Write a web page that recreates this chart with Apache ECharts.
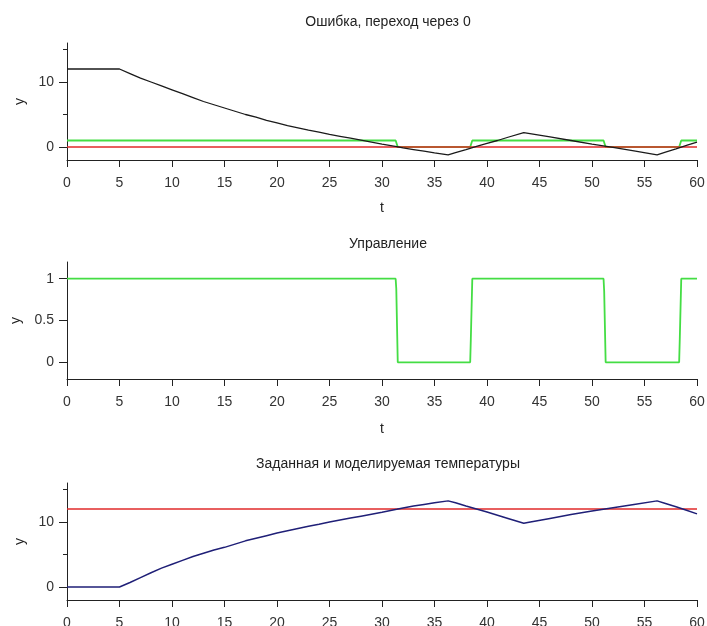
<!DOCTYPE html>
<html>
<head>
<meta charset="utf-8">
<script src="https://cdn.jsdelivr.net/npm/echarts@6/dist/echarts.min.js"></script>
<style>
html,body{margin:0;padding:0;background:#fff;}
#c{width:707px;height:626px;}
</style>
</head>
<body>
<div id="c"></div>
<script>
// ---- data ----
const titles = ['Ошибка, переход через 0', 'Управление', 'Заданная и моделируемая температуры'];

const errT = [0, 5, 6, 7, 8, 9, 10, 11, 12, 13, 14, 15, 16, 17, 18, 19, 20, 21, 22, 23, 24, 25, 26, 27, 28, 29, 30, 31.4, 32, 33, 34, 35, 36.3, 37, 38, 39, 40, 41, 42, 43.5, 46, 48, 50, 52, 54, 56.2, 57, 58, 59, 60];
const errV = [12, 12, 11.3, 10.6, 10.0, 9.4, 8.8, 8.2, 7.6, 7.0, 6.5, 6.0, 5.5, 5.0, 4.6, 4.1, 3.7, 3.3, 2.95, 2.6, 2.3, 1.95, 1.65, 1.35, 1.05, 0.75, 0.45, 0.05, -0.15, -0.4, -0.65, -0.9, -1.2, -0.87, -0.4, 0.08, 0.55, 1.0, 1.5, 2.2, 1.55, 1.0, 0.45, -0.05, -0.6, -1.2, -0.8, -0.3, 0.25, 0.75];

const ctrlT = [0, 31.3, 31.36, 31.5, 38.4, 38.46, 38.6, 51.1, 51.16, 51.3, 58.3, 58.36, 58.5, 60];
const ctrlU = [1, 1, 0.88, 0, 0, 0.28, 1, 1, 0.85, 0, 0, 0.28, 1, 1];

const errRefT = [0, 60];
const errRefV = [0, 0];

const tempT = [0, 5, 6, 7, 8, 9, 10, 11, 12, 13, 14, 15, 16, 17, 18, 19, 20, 21, 22, 23, 24, 25, 26, 27, 28, 29, 30, 31.4, 32, 33, 34, 35, 36.3, 37, 38, 39, 40, 41, 42, 43.5, 44, 46, 48, 50, 52, 54, 56.2, 57, 58, 59, 60];
const tempV = [0, 0, 0.7, 1.45, 2.2, 2.9, 3.5, 4.1, 4.7, 5.2, 5.7, 6.1, 6.6, 7.1, 7.5, 7.9, 8.3, 8.65, 9.0, 9.35, 9.65, 10.0, 10.3, 10.6, 10.9, 11.2, 11.5, 11.95, 12.15, 12.45, 12.7, 12.95, 13.25, 12.95, 12.45, 12.0, 11.55, 11.05, 10.55, 9.8, 9.95, 10.55, 11.15, 11.7, 12.2, 12.7, 13.25, 12.85, 12.35, 11.8, 11.25];

const setT = [0, 60];
const setV = [12, 12];

const xTickStep = 5;
const xMin = 0, xMax = 60;
const tempMajor = [0, 10];
const tempMinor = [5, 15];
const ctrlTicks = [0, 0.5, 1];

// ---- chart ----
function zip(a, b) { return a.map((v, i) => [v, b[i]]); }

const FONT = 'Liberation Sans';
const AX = '#222';

function xAxis(grid, name, nameGap) {
  return {
    type: 'value', gridIndex: grid, min: xMin, max: xMax, interval: xTickStep,
    axisLine: { onZero: false, lineStyle: { color: AX, width: 1 } },
    axisTick: { inside: false, length: 7, lineStyle: { color: AX } },
    axisLabel: { fontFamily: FONT, fontSize: 14, color: '#333', margin: 16 },
    splitLine: { show: false },
    name: name, nameLocation: 'middle', nameGap: nameGap,
    nameTextStyle: { fontFamily: FONT, fontSize: 14, color: '#222' }
  };
}
function yAxisMajor(grid, min, max, ticks, nameGap) {
  return {
    type: 'value', gridIndex: grid, min: min, max: max, position: 'left',
    axisLine: { onZero: false, lineStyle: { color: AX, width: 1 } },
    axisTick: { inside: false, length: 8, customValues: ticks, lineStyle: { color: AX } },
    axisLabel: { fontFamily: FONT, fontSize: 14, color: '#333', margin: 13, customValues: ticks },
    splitLine: { show: false },
    name: 'y', nameLocation: 'middle', nameGap: nameGap, nameRotate: 90,
    nameTextStyle: { fontFamily: FONT, fontSize: 14, color: '#222' }
  };
}
function yAxisMinor(grid, min, max, ticks) {
  return {
    type: 'value', gridIndex: grid, min: min, max: max, position: 'left', offset: 0,
    axisLine: { show: false, onZero: false },
    axisTick: { inside: false, length: 4, customValues: ticks, lineStyle: { color: AX } },
    axisLabel: { show: false },
    splitLine: { show: false }
  };
}
function line(xi, yi, data, color, width) {
  return {
    type: 'line', xAxisIndex: xi, yAxisIndex: yi, data: data, showSymbol: false, symbol: 'none',
    lineStyle: { color: color, width: width }, silent: true, animation: false
  };
}

const GREEN = '#44dd44', RED = '#e02a2a', BLACK = '#1a1a1a', NAVY = '#1f1f77';
const titleStyle = { fontFamily: FONT, fontSize: 14, fontWeight: 'normal', color: '#222' };

const chart = echarts.init(document.getElementById('c'), null, { renderer: 'canvas' });
chart.setOption({
  animation: false,
  backgroundColor: '#fff',
  title: [
    { text: titles[0], left: 383, top: 10, textAlign: 'center', textStyle: titleStyle },
    { text: titles[1], left: 383, top: 232, textAlign: 'center', textStyle: titleStyle },
    { text: titles[2], left: 383, top: 452, textAlign: 'center', textStyle: titleStyle }
  ],
  grid: [
    { left: 67, width: 630, top: 43, height: 117, outerBoundsMode: 'none', containLabel: false },
    { left: 67, width: 630, top: 262, height: 117, outerBoundsMode: 'none', containLabel: false },
    { left: 67, width: 630, top: 483, height: 117, outerBoundsMode: 'none', containLabel: false }
  ],
  xAxis: [xAxis(0, 't', 41), xAxis(1, 't', 43), xAxis(2, '', 41)],
  yAxis: [
    yAxisMajor(0, -2, 16, tempMajor, 34),
    yAxisMinor(0, -2, 16, tempMinor),
    yAxisMajor(1, -0.2, 1.2, ctrlTicks, 44),
    yAxisMajor(2, -2, 16, tempMajor, 34),
    yAxisMinor(2, -2, 16, tempMinor)
  ],
  series: [
    line(0, 0, zip(ctrlT, ctrlU), GREEN, 1.8),
    line(0, 0, zip(errRefT, errRefV), RED, 1.5),
    line(0, 0, zip(errT, errV), BLACK, 1.3),
    line(1, 2, zip(ctrlT, ctrlU), GREEN, 1.8),
    line(2, 3, zip(setT, setV), RED, 1.5),
    line(2, 3, zip(tempT, tempV), NAVY, 1.5)
  ]
});
</script>
</body>
</html>
